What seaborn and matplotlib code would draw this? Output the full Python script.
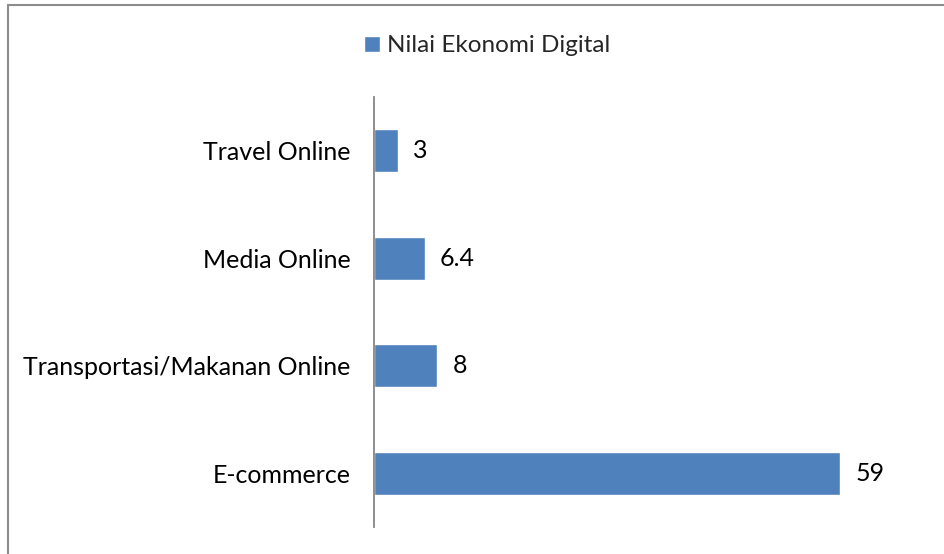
import matplotlib
matplotlib.use("Agg")
import matplotlib.pyplot as plt
from matplotlib.lines import Line2D
import seaborn as sns
import pandas as pd

categories = ["Travel Online", "Media Online", "Transportasi/Makanan Online", "E-commerce"]
values = [3, 6.4, 8, 59]
series_name = "Nilai Ekonomi Digital"

sns.set_theme(style="white")
plt.rcParams["font.family"] = ["Lato", "DejaVu Sans"]

df = pd.DataFrame({"kategori": categories, "nilai": values})

fig = plt.figure(figsize=(9.44, 5.54), dpi=100)
ax = fig.add_axes([374 / 944, 1 - 527 / 554, 553 / 944, 430 / 554])

sns.barplot(data=df, x="nilai", y="kategori", orient="h", color="#4F81BD",
            width=0.4, saturation=1, label=series_name, ax=ax)

ax.set_xlim(0, 70)
ax.set_ylim(3.5, -0.5)
ax.set_xlabel("")
ax.set_ylabel("")
ax.set_xticks([])
ax.tick_params(axis="y", length=0, pad=17, labelsize=18, labelcolor="black")

for side in ("top", "right", "bottom"):
    ax.spines[side].set_visible(False)
ax.spines["left"].set_color("#868686")
ax.spines["left"].set_linewidth(1.3)

for cont in ax.containers:
    ax.bar_label(cont, labels=[f"{v:g}" for v in values], padding=11,
                 fontsize=18, color="black")

ax.legend(loc="center", bbox_to_anchor=(487 / 944, 1 - 46 / 554),
          bbox_transform=fig.transFigure, frameon=False, fontsize=17.5,
          handlelength=0.65, handleheight=0.65, handletextpad=0.3)

# chart-area frame (top and left edges)
fig.add_artist(Line2D([8 / 944, 1], [1 - 5 / 554, 1 - 5 / 554],
                      transform=fig.transFigure, color="#8c8c8c", lw=1.5))
fig.add_artist(Line2D([8 / 944, 8 / 944], [0, 1 - 5 / 554],
                      transform=fig.transFigure, color="#8c8c8c", lw=1.5))

fig.savefig("out.png", dpi=100)
